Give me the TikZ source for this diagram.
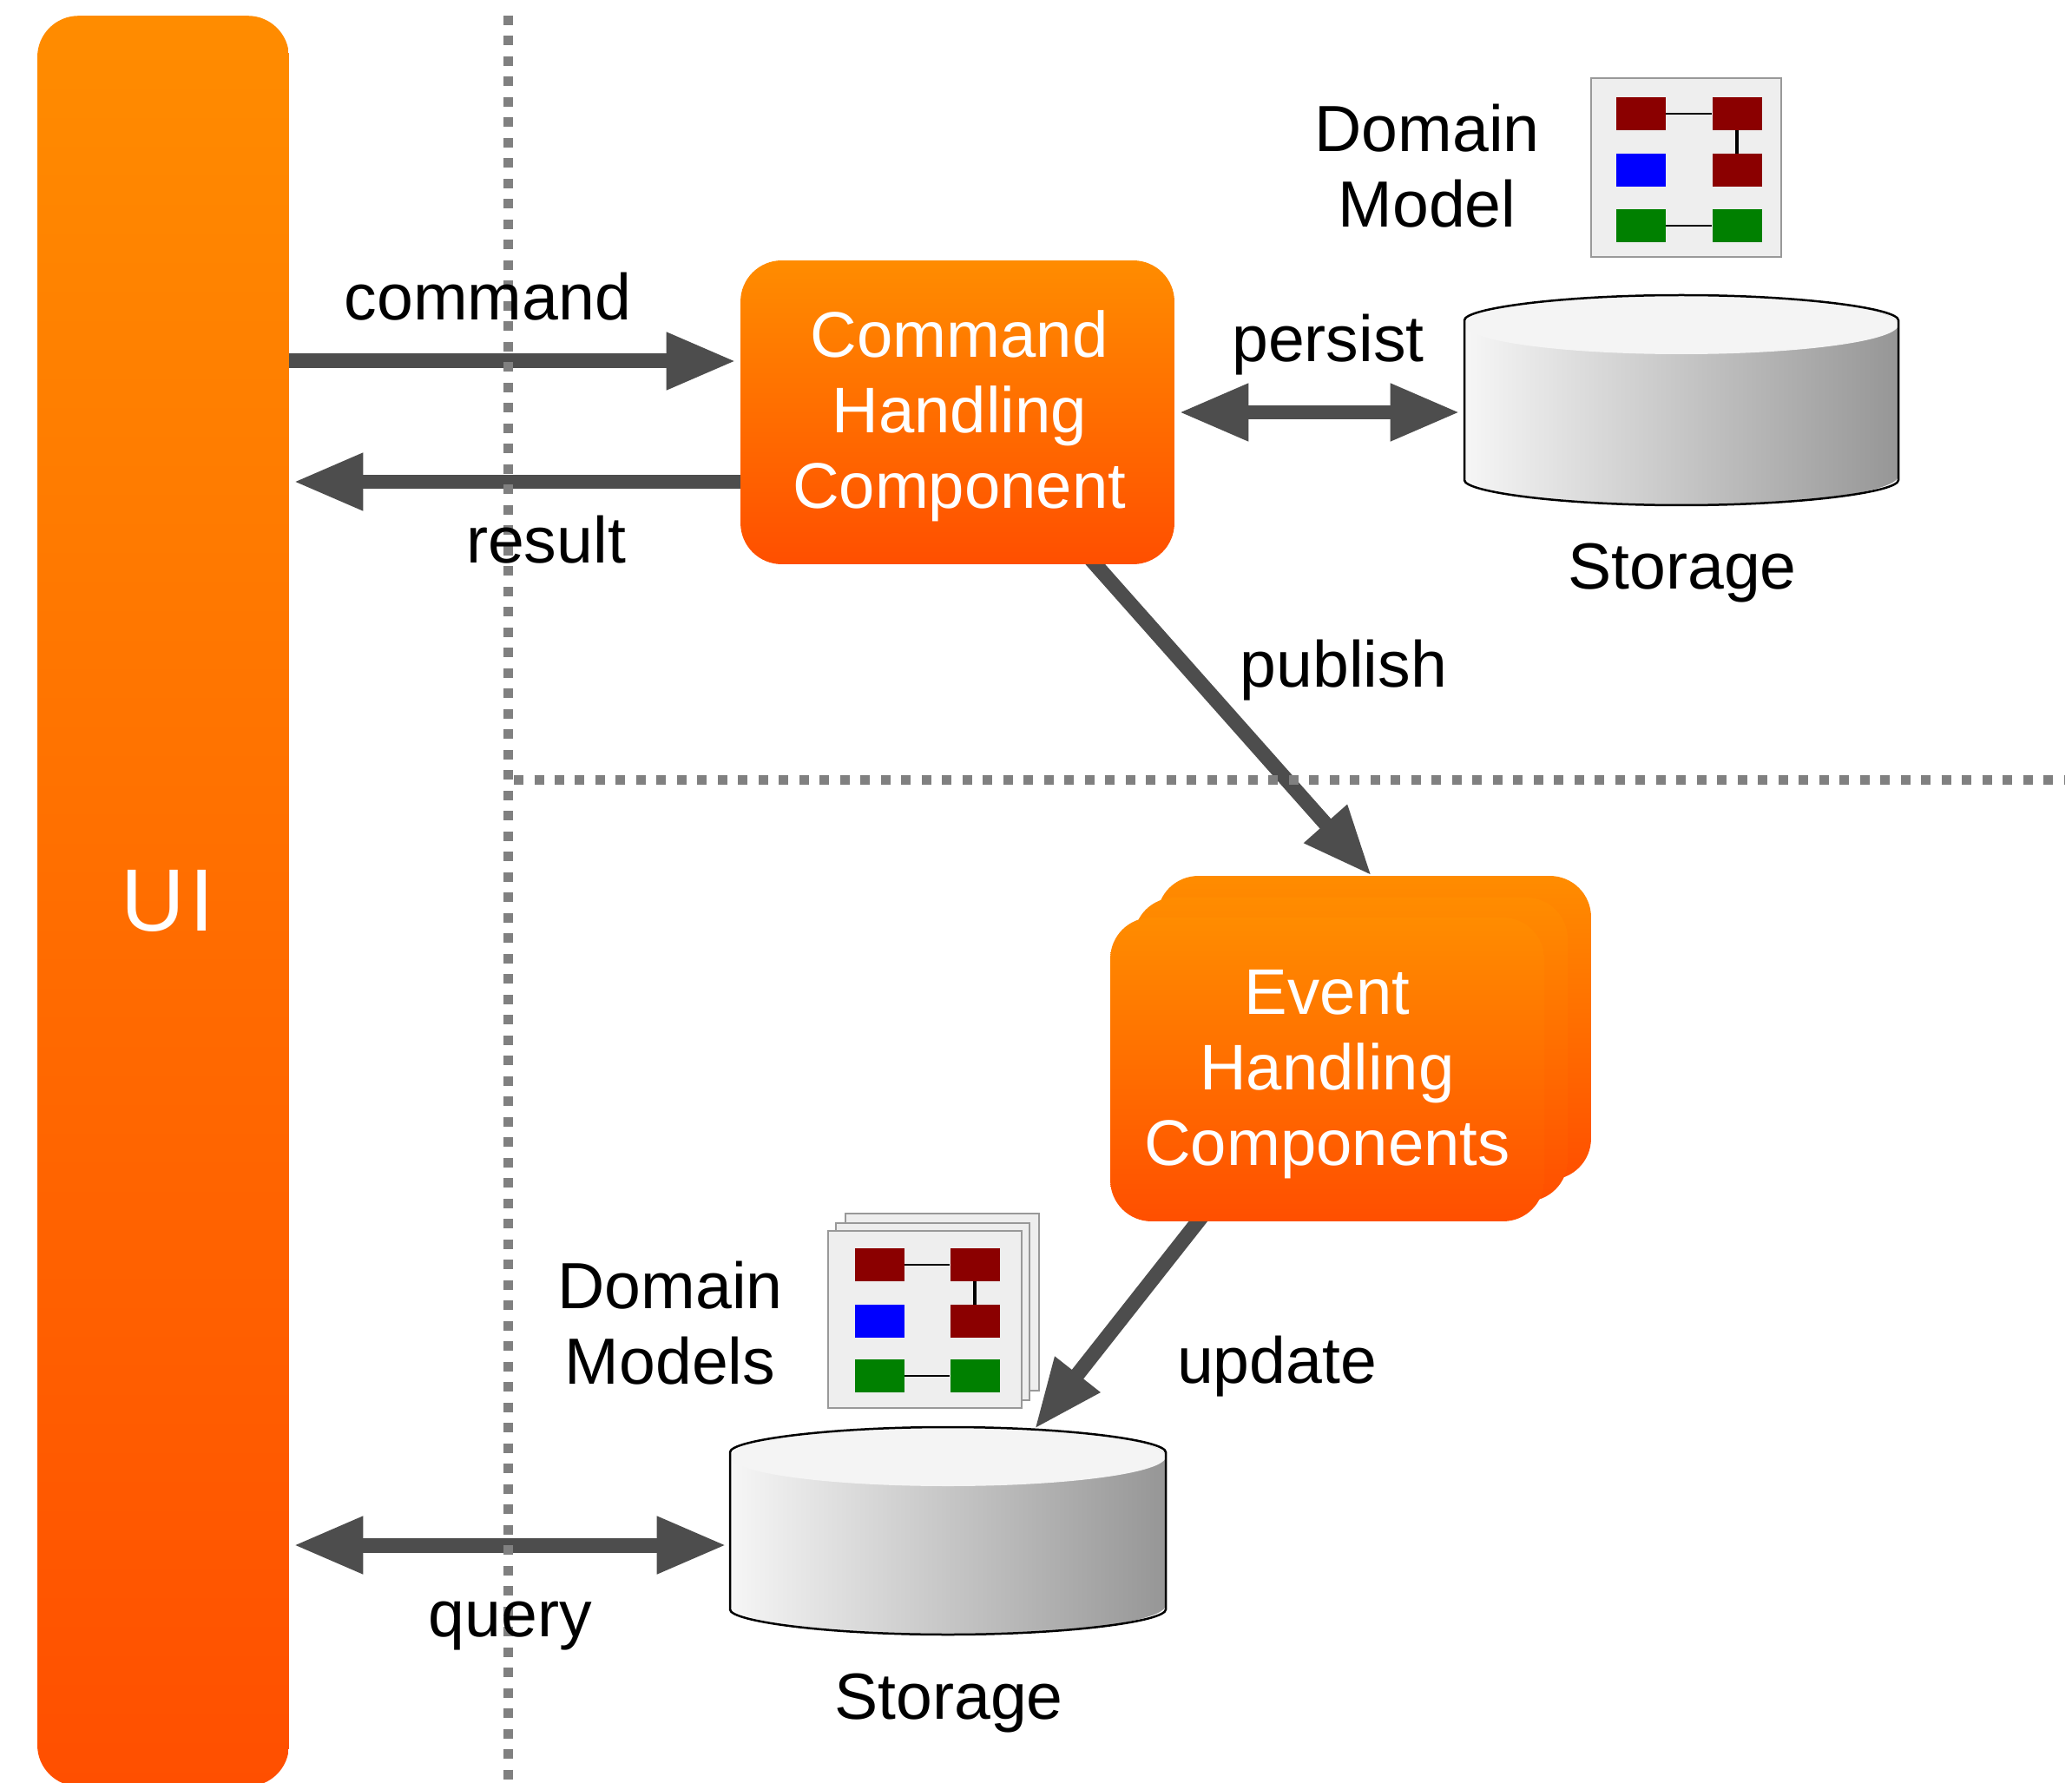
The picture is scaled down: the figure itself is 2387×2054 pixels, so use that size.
\documentclass[tikz,border=0pt]{standalone}
\usepackage{fontspec}
\setmainfont{Liberation Sans}
\usetikzlibrary{arrows.meta}
\pgfdeclarelayer{under}
\pgfsetlayers{under,main}
\definecolor{orangetop}{HTML}{FF8C00}
\definecolor{orangebot}{HTML}{FF4F00}
\definecolor{arrowgrey}{HTML}{4D4D4D}
\definecolor{dotgrey}{HTML}{808080}
\definecolor{cardfill}{HTML}{EEEEEE}
\definecolor{cardline}{HTML}{999999}
\definecolor{dred}{HTML}{8B0000}
\definecolor{dgreen}{HTML}{008000}
\definecolor{cylleft}{HTML}{F6F6F6}
\definecolor{cylright}{HTML}{969696}
\definecolor{cyltop}{HTML}{F4F4F4}
\newcommand{\storagecyl}[4]{% x0, x1, top-ellipse cy, bottom-ellipse cy
  \path[left color=cylleft, right color=cylright]
    ({#1},{#3}) -- ({#1},{#4}) arc (180:0:{(#2-#1)/2} and 34) -- ({#2},{#3}) arc (0:-180:{(#2-#1)/2} and 34) -- cycle;
  \fill[cyltop] ({(#1+#2)/2},{#3}) ellipse ({(#2-#1)/2} and 34);
  \draw[line width=.05cm, rounded corners=.1cm]
    ({#1},{#3}) -- ({#1},{#4}) arc (180:0:{(#2-#1)/2} and 34) -- ({#2},{#3}) arc (0:-180:{(#2-#1)/2} and 34) -- cycle;
}
\tikzset{
  x=.02cm, y=-.02cm,
  big/.style={font=\fontsize{42.8}{49.5}\selectfont, align=center, inner sep=0pt},
  orangebox/.style={top color=orangetop, bottom color=orangebot, draw=none, rounded corners=.95cm,
    minimum width=10cm, minimum height=7cm, inner sep=0pt, text=white, align=center,
    font=\fontsize{42.3}{49.5}\selectfont},
  arrowline/.style={draw=arrowgrey, line width=.34cm},
  onetip/.style={arrowline, -{Triangle[length=1.6cm,width=1.24cm]}},
  twotip/.style={arrowline, {Triangle[length=1.6cm,width=1.24cm]}-{Triangle[length=1.6cm,width=1.24cm]}},
  dotline/.style={draw=dotgrey, line width=.22cm, dash pattern=on .22cm off .25cm},
  card/.style={draw=cardline, fill=cardfill, line width=.04cm, inner sep=0pt},
  sq/.style={inner sep=0pt, draw=none, minimum width=1.14cm, minimum height=.76cm},
  anchorbox/.style={inner sep=0pt, minimum width=10cm, minimum height=4.8cm},
  thinlink/.style={draw=black, line width=.04cm},
  thicklink/.style={draw=black, line width=.09cm},
}
\begin{document}
\begin{tikzpicture}
\useasboundingbox (0,0) rectangle (2387,2054);

% orange nodes
\node[orangebox, minimum width=5.8cm, minimum height=40.8cm] (ui) at (188,1038)
  {\fontsize{58}{60}\selectfont\kern 6pt U\kern 3.5pt I};
\node[orangebox] (cmd) at (1103,475) {\rule{0pt}{36pt}\kern2.5pt Command\\\kern2.5pt Handling\\\kern2.5pt Component};
\node[orangebox] (ehback) at (1583,1184) {};
\node[orangebox] (ehmid) at (1556,1209) {};
\node[orangebox] (eh) at (1529,1232) {\rule{0pt}{36pt}Event\\Handling\\Components};

% storage cylinders
\storagecyl{1687}{2187}{374}{548}
\node[anchorbox] (st1) at (1937,460) {};
\storagecyl{841}{1343}{1678}{1849}
\node[anchorbox] (st2) at (1092,1763) {};

% domain model icon
\node[card, minimum width=4.38cm, minimum height=4.14cm] (dm) at (1942,193) {};
\node[sq, fill=dred] (a1) at (1890,131) {};
\node[sq, fill=dred] (a2) at (2001,131) {};
\node[sq, fill=blue] (a3) at (1890,196) {};
\node[sq, fill=dred] (a4) at (2001,196) {};
\node[sq, fill=dgreen] (a5) at (1890,260) {};
\node[sq, fill=dgreen] (a6) at (2001,260) {};
\draw[thinlink] (a1) -- (a2);
\draw[thicklink] (a2) -- (a4);
\draw[thinlink] (a5) -- (a6);

% domain models stacked icon
\node[card, minimum width=4.46cm, minimum height=4.1cm] (dmc) at (1085.5,1500) {};
\node[card, minimum width=4.46cm, minimum height=4.1cm] (dmb) at (1074.5,1511) {};
\node[card, minimum width=4.46cm, minimum height=4.1cm] (dma) at (1065.5,1520) {};
\node[sq, fill=dred] (b1) at (1013,1457) {};
\node[sq, fill=dred] (b2) at (1123,1457) {};
\node[sq, fill=blue] (b3) at (1013,1522) {};
\node[sq, fill=dred] (b4) at (1123,1522) {};
\node[sq, fill=dgreen] (b5) at (1013,1585) {};
\node[sq, fill=dgreen] (b6) at (1123,1585) {};
\draw[thinlink] (b1) -- (b2);
\draw[thicklink] (b2) -- (b4);
\draw[thinlink] (b5) -- (b6);

% levels used by connectors
\coordinate (cmdlevel) at (0,416);
\coordinate (reslevel) at (0,555);
\coordinate (querylevel) at (0,1780);
\coordinate (pubstart) at (1262,0);
\coordinate (pubend) at (1580,0);
\coordinate (updstart) at (1380,0);
\coordinate (updend) at (1192,1646);
\coordinate (vtop) at (585,18);
\coordinate (vbot) at (585,2054);
\coordinate (hleft) at (592,898);
\coordinate (hright) at (2378,898);

\begin{pgfonlayer}{under}
\fill[white] (0,0) rectangle (2387,2054);
\draw[onetip, shorten >=.1cm] (ui.east |- cmdlevel) -- (cmd.west |- cmdlevel);
\draw[onetip, shorten >=.1cm] (cmd.west |- reslevel) -- (ui.east |- reslevel);
\draw[twotip, shorten <=.1cm, shorten >=.1cm] (cmd.east) -- (st1.west |- cmd.east);
\draw[twotip, shorten <=.1cm, shorten >=.1cm] (ui.east |- querylevel) -- (st2.west |- querylevel);
\draw[onetip, shorten <=-.4cm] (cmd.south -| pubstart) -- (ehback.north -| pubend);
\draw[onetip, shorten <=-.4cm] (eh.south -| updstart) -- (updend);
\draw[dotline] (vtop) -- (vbot);
\draw[dotline] (hleft) -- (hright);
\end{pgfonlayer}

% labels
\node[big] (lcommand) at (562,342) {command};
\node[big] (lresult) at (629,622) {result};
\node[big] (lpersist) at (1530,397) {persist};
\node[big] (lpublish) at (1548,772) {publish};
\node[big] (lupdate) at (1471,1574) {update};
\node[big] (lquery) at (588,1873) {query};
\node[big] (lst1) at (1938,660) {Storage};
\node[big] (lst2) at (1093,1962) {Storage};
\node[big] (ldm) at (1644,191) {Domain\\Model};
\node[big] (ldms) at (772,1524) {Domain\\Models};
\end{tikzpicture}
\end{document}
